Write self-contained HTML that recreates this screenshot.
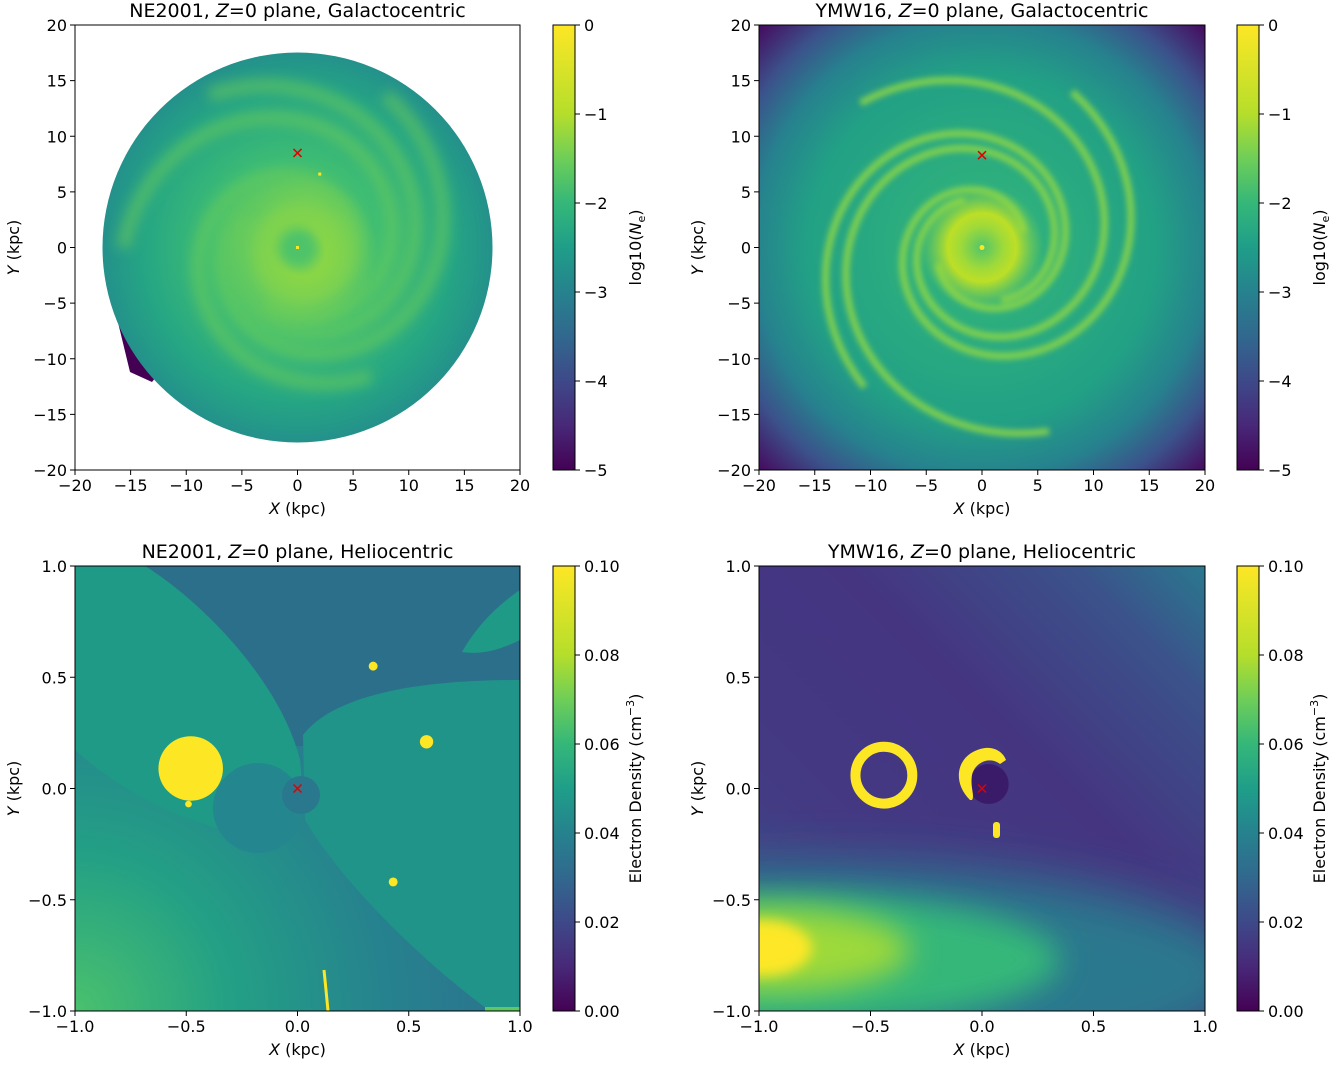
<!DOCTYPE html>
<html><head><meta charset="utf-8">
<style>
body{margin:0;background:#fff;}
svg{font-family:"DejaVu Sans","Liberation Sans",sans-serif;}
</style></head>
<body>
<svg id="fig" width="1333" height="1060" viewBox="0 0 1333 1060" xmlns="http://www.w3.org/2000/svg">
<defs>
<linearGradient id="viridis" x1="0" y1="1" x2="0" y2="0">
<stop offset="0" stop-color="#440154"/><stop offset="0.1" stop-color="#482878"/><stop offset="0.2" stop-color="#3e4989"/><stop offset="0.3" stop-color="#31688e"/><stop offset="0.4" stop-color="#26828e"/><stop offset="0.5" stop-color="#1f9e89"/><stop offset="0.6" stop-color="#35b779"/><stop offset="0.7" stop-color="#6ece58"/><stop offset="0.8" stop-color="#b5de2b"/><stop offset="1" stop-color="#fde725"/>
</linearGradient>
<radialGradient id="neDisc" cx="0.5" cy="0.5" r="0.5">
<stop offset="0" stop-color="#6ece58"/><stop offset="0.45" stop-color="#3dbc74"/><stop offset="0.8" stop-color="#25a584"/><stop offset="1" stop-color="#24918b"/>
</radialGradient>
<radialGradient id="ymwBg" cx="0.5" cy="0.5" r="0.71">
<stop offset="0" stop-color="#35b779"/><stop offset="0.55" stop-color="#22a185"/><stop offset="0.72" stop-color="#26828e"/><stop offset="0.85" stop-color="#3b528b"/><stop offset="1" stop-color="#46085c"/>
</radialGradient>
<radialGradient id="ymwCore" cx="0.5" cy="0.5" r="0.5">
<stop offset="0" stop-color="#52c569"/><stop offset="0.35" stop-color="#a0da39"/><stop offset="0.55" stop-color="#bddf26"/><stop offset="1" stop-color="#7fd34e" stop-opacity="0"/>
</radialGradient>
<radialGradient id="neCore" cx="0.5" cy="0.5" r="0.5">
<stop offset="0" stop-color="#6ece58"/><stop offset="0.3" stop-color="#8bd646"/><stop offset="0.6" stop-color="#7ad151"/><stop offset="1" stop-color="#6ece58" stop-opacity="0"/>
</radialGradient>
<linearGradient id="ymwBrBg" x1="0" y1="1" x2="1" y2="0">
<stop offset="0" stop-color="#3e4a89"/><stop offset="0.3" stop-color="#443983"/><stop offset="0.6" stop-color="#453581"/><stop offset="0.85" stop-color="#3b528b"/><stop offset="1" stop-color="#2a788e"/>
</linearGradient>
<radialGradient id="neBlGrad" cx="0" cy="1" r="1">
<stop offset="0" stop-color="#4ac16d"/><stop offset="0.35" stop-color="#23a085"/><stop offset="0.7" stop-color="#26828e"/><stop offset="1" stop-color="#2c728e"/>
</radialGradient>
<filter id="blur3"><feGaussianBlur stdDeviation="3"/></filter>
<filter id="blur6" x="-50%" y="-50%" width="200%" height="200%"><feGaussianBlur stdDeviation="6"/></filter>
<filter id="blur15" x="-50%" y="-50%" width="200%" height="200%"><feGaussianBlur stdDeviation="15"/></filter>
<filter id="blur25" x="-50%" y="-50%" width="200%" height="200%"><feGaussianBlur stdDeviation="25"/></filter>
<clipPath id="clipTL"><rect x="75" y="25" width="445" height="445"/></clipPath>
<clipPath id="clipTR"><rect x="759" y="25" width="446" height="445"/></clipPath>
<clipPath id="clipBL"><rect x="75" y="566" width="445" height="445"/></clipPath>
<clipPath id="clipBR"><rect x="759" y="566" width="446" height="445"/></clipPath>
<clipPath id="clipDisc"><circle cx="297.5" cy="247.5" r="195"/></clipPath>
</defs>
<g id="layer"></g>
</svg>
<script>
// ---- data ----
var galTicks = [-20,-15,-10,-5,0,5,10,15,20];
var helTicks = [-1.0,-0.5,0.0,0.5,1.0];
var logCbTicks = [0,-1,-2,-3,-4,-5];
var linCbTicks = [0.00,0.02,0.04,0.06,0.08,0.10];
// spiral arms (galactocentric): start radius kpc, start angle deg, winding deg
var neArmR0 = [4.5, 5.0, 5.5, 4.2];
var neArmA0 = [60, 150, 240, 330];
var neArmSpan = [360, 330, 300, 330];
var ymwArmR0 = [4.0, 4.5, 4.2, 5.0];
var ymwArmA0 = [20, 110, 200, 290];
var ymwArmSpan = [400, 380, 390, 360];
// heliocentric NE2001 clumps: x, y (kpc), radius (kpc)
var neClumpX = [-0.48, 0.34, 0.58, 0.43, -0.49];
var neClumpY = [0.09, 0.55, 0.21, -0.42, -0.07];
var neClumpR = [0.145, 0.02, 0.03, 0.02, 0.015];
// YMW16 heliocentric rings: x, y, outer r, inner r
var ymwRingX = [-0.44];
var ymwRingY = [0.06];
var ymwRingRo = [0.15];
var ymwRingRi = [0.105];

var NS="http://www.w3.org/2000/svg";
var L=document.getElementById('layer');
function mk(t,a,p){var e=document.createElementNS(NS,t);for(var k in a)e.setAttribute(k,a[k]);(p||L).appendChild(e);return e;}
function fmt(v,d){var s=Math.abs(v).toFixed(d);return (v<0?'\u2212':'')+s;}

function panel(ax,title,xmin,xmax,ticks,dec){
  var sx=function(v){return ax.x0+(v-xmin)/(xmax-xmin)*ax.w;};
  var sy=function(v){return ax.y0+ax.h-(v-xmin)/(xmax-xmin)*ax.h;};
  var g=mk('g',{});
  
  
  var fr=mk('rect',{x:ax.x0,y:ax.y0,width:ax.w,height:ax.h,fill:'none',stroke:'#000','stroke-width':1},g);
  
  
  ticks.forEach(function(t){
    var X=sx(t),Y=sy(t);
    mk('line',{x1:X,y1:ax.y0+ax.h,x2:X,y2:ax.y0+ax.h+5,stroke:'#000'},g);
    var tx=mk('text',{x:X,y:ax.y0+ax.h+21,'text-anchor':'middle','font-size':16},g);
    tx.textContent=fmt(t,dec);
    
    
    mk('line',{x1:ax.x0-5,y1:Y,x2:ax.x0,y2:Y,stroke:'#000'},g);
    var ty=mk('text',{x:ax.x0-8,y:Y+6,'text-anchor':'end','font-size':16},g);
    ty.textContent=fmt(t,dec);
    
    
  });
  var tt=mk('text',{x:ax.x0+ax.w/2,y:ax.y0-8,'text-anchor':'middle','font-size':19},g);
  tt.innerHTML=title;
  
  
  var xl=mk('text',{x:ax.x0+ax.w/2,y:ax.y0+ax.h+44,'text-anchor':'middle','font-size':16},g);
  xl.innerHTML='<tspan font-style="italic">X</tspan> (kpc)';
  
  
  var yl=mk('text',{x:0,y:0,'text-anchor':'middle','font-size':16,transform:'translate('+(ax.x0-56)+','+(ax.y0+ax.h/2)+') rotate(-90)'},g);
  yl.innerHTML='<tspan font-style="italic">Y</tspan> (kpc)';
  
  
  return {sx:sx,sy:sy};
}
function colorbar(x0,y0,h,ticks,vmin,vmax,dec,label){
  var g=mk('g',{});
  
  
  mk('rect',{x:x0,y:y0,width:22,height:h,fill:'url(#viridis)',stroke:'#000'},g);
  ticks.forEach(function(t){
    var Y=y0+h-(t-vmin)/(vmax-vmin)*h;
    mk('line',{x1:x0+22,y1:Y,x2:x0+27,y2:Y,stroke:'#000'},g);
    var tx=mk('text',{x:x0+31,y:Y+6,'font-size':16},g);
    tx.textContent=fmt(t,dec);
    
    
  });
  var lb=mk('text',{x:0,y:0,'text-anchor':'middle','font-size':16,transform:'translate('+(x0+88)+','+(y0+h/2)+') rotate(-90)'},g);
  lb.innerHTML=label;
  
  
}
function armPath(P,r0,a0,span){
  var k=0.2,d='';
  for(var i=0;i<=80;i++){
    var th=(a0+span*i/80)*Math.PI/180;
    var r=r0*Math.exp(k*span*i/80*Math.PI/180);
    var X=P.sx(r*Math.cos(th)),Y=P.sy(r*Math.sin(th));
    d+=(i?'L':'M')+X.toFixed(1)+','+Y.toFixed(1);
  }
  return d;
}
function cross(P,g){
  var X=P.sx(0),Y=P.sy(0.0);
  var c=mk('path',{d:'M'+(X-4)+','+(Y-4)+'L'+(X+4)+','+(Y+4)+'M'+(X+4)+','+(Y-4)+'L'+(X-4)+','+(Y+4),stroke:'#e00000','stroke-width':1.5},g);
  
  
}

// ===== Top-left NE2001 galactocentric =====
var TL={x0:75,y0:25,w:445,h:445,name:'ne2001-galactocentric'};
var gTL=mk('g',{'clip-path':'url(#clipTL)'});


var pTL={sx:function(v){return 75+(v+20)/40*445;},sy:function(v){return 25+(20-v)/40*445;}};
mk('path',{d:'M115,310 L130,372 L152,382 L160,372 L120,320 Z',fill:'#440154'},gTL);
mk('circle',{cx:pTL.sx(0),cy:pTL.sy(0),r:195,fill:'url(#neDisc)'},gTL);
var gArm=mk('g',{'clip-path':'url(#clipDisc)',filter:'url(#blur6)'},gTL);
neArmR0.forEach(function(r0,i){
  var a=mk('path',{d:armPath(pTL,r0,neArmA0[i],neArmSpan[i]),fill:'none',stroke:'#6ece58','stroke-width':14,'stroke-opacity':0.55},gArm);
  
  
});
mk('ellipse',{cx:pTL.sx(0.5),cy:pTL.sy(-0.5),rx:75,ry:78,fill:'url(#neCore)'},gTL);
mk('circle',{cx:pTL.sx(0),cy:pTL.sy(0),r:20,fill:'#4ec36b',filter:'url(#blur6)'},gTL);
mk('rect',{x:pTL.sx(0)-1.5,y:pTL.sy(0)-1.5,width:3,height:3,fill:'#fde725'},gTL);
mk('rect',{x:pTL.sx(2)-1.5,y:pTL.sy(6.6)-1.5,width:3,height:3,fill:'#fde725'},gTL);
panel(TL,'NE2001, <tspan font-style="italic">Z</tspan>=0 plane, Galactocentric',-20,20,galTicks,0);
var pTL2={sx:function(v){return pTL.sx(v);},sy:function(v){return pTL.sy(v+8.5);}};
cross(pTL2,L);
colorbar(553,25,445,logCbTicks,-5,0,0,'log10(<tspan font-style="italic">N</tspan><tspan font-size="11" dy="4">e</tspan><tspan dy="-4">)</tspan>');

// ===== Top-right YMW16 galactocentric =====
var TR={x0:759,y0:25,w:446,h:445,name:'ymw16-galactocentric'};
var pTR={sx:function(v){return 759+(v+20)/40*446;},sy:function(v){return 25+(20-v)/40*445;}};
var gTR=mk('g',{'clip-path':'url(#clipTR)'});


mk('rect',{x:759,y:25,width:446,height:445,fill:'url(#ymwBg)'},gTR);
var gArm2=mk('g',{filter:'url(#blur3)'},gTR);
ymwArmR0.forEach(function(r0,i){
  var a=mk('path',{d:armPath(pTR,r0,ymwArmA0[i],ymwArmSpan[i]),fill:'none',stroke:'#8fd744','stroke-width':7,'stroke-opacity':0.85},gArm2);
  
  
});
mk('circle',{cx:pTR.sx(0),cy:pTR.sy(0),r:62,fill:'url(#ymwCore)'},gTR);
mk('circle',{cx:pTR.sx(0),cy:pTR.sy(0),r:2.5,fill:'#fde725'},gTR);
panel(TR,'YMW16, <tspan font-style="italic">Z</tspan>=0 plane, Galactocentric',-20,20,galTicks,0);
var pTR2={sx:function(v){return pTR.sx(v);},sy:function(v){return pTR.sy(v+8.3);}};
cross(pTR2,L);
colorbar(1237,25,445,logCbTicks,-5,0,0,'log10(<tspan font-style="italic">N</tspan><tspan font-size="11" dy="4">e</tspan><tspan dy="-4">)</tspan>');

// ===== Bottom-left NE2001 heliocentric =====
var BL={x0:75,y0:566,w:445,h:445,name:'ne2001-heliocentric'};
var pBL={sx:function(v){return 75+(v+1)/2*445;},sy:function(v){return 566+(1-v)/2*445;}};
var gBL=mk('g',{'clip-path':'url(#clipBL)'});


mk('rect',{x:75,y:566,width:445,height:445,fill:'url(#neBlGrad)'},gBL);
mk('rect',{x:75,y:566,width:445,height:180,fill:'#2c6f8b'},gBL);
mk('path',{d:'M75,566 L145,566 C200,600 280,680 300,760 C305,810 300,840 280,842 C200,830 130,800 75,750 Z',fill:'#1f9a87'},gBL);
mk('path',{d:'M303,735 C330,700 400,680 520,680 L520,1011 L490,1011 C420,960 340,880 305,820 Z',fill:'#21948a'},gBL);
mk('path',{d:'M462,652 C480,620 505,600 520,590 L520,640 C500,650 480,655 462,652 Z',fill:'#1f9a87'},gBL);
mk('circle',{cx:258,cy:808,r:45,fill:'#24868e'},gBL);
mk('circle',{cx:301,cy:795,r:19,fill:'#2a788e'},gBL);
neClumpX.forEach(function(x,i){
  var c=mk('circle',{cx:pBL.sx(x),cy:pBL.sy(neClumpY[i]),r:neClumpR[i]/2*445,fill:'#fde725'},gBL);
  
  
});
mk('path',{d:'M324,970 L326,990 L328,1011',stroke:'#fde725','stroke-width':3,fill:'none'},gBL);
mk('rect',{x:485,y:1007,width:35,height:4,fill:'#5ec962'},gBL);
panel(BL,'NE2001, <tspan font-style="italic">Z</tspan>=0 plane, Heliocentric',-1,1,helTicks,1);
cross(pBL,L);
colorbar(553,566,445,linCbTicks,0,0.1,2,'Electron Density (cm<tspan font-size="11" dy="-7">\u22123</tspan><tspan dy="7">)</tspan>');

// ===== Bottom-right YMW16 heliocentric =====
var BR={x0:759,y0:566,w:446,h:445,name:'ymw16-heliocentric'};
var pBR={sx:function(v){return 759+(v+1)/2*446;},sy:function(v){return 566+(1-v)/2*445;}};
var gBR=mk('g',{'clip-path':'url(#clipBR)'});


mk('rect',{x:759,y:566,width:446,height:445,fill:'url(#ymwBrBg)'},gBR);
mk('ellipse',{cx:830,cy:975,rx:420,ry:110,fill:'#2a788e',filter:'url(#blur25)'},gBR);
mk('ellipse',{cx:790,cy:960,rx:270,ry:65,fill:'#35b779',filter:'url(#blur15)'},gBR);
mk('ellipse',{cx:770,cy:950,rx:140,ry:42,fill:'#9dd93b',filter:'url(#blur15)'},gBR);
mk('ellipse',{cx:762,cy:948,rx:50,ry:28,fill:'#fde725',filter:'url(#blur6)'},gBR);
ymwRingX.forEach(function(x,i){
  var cx=pBR.sx(x),cy=pBR.sy(ymwRingY[i]),ro=ymwRingRo[i]/2*446,ri=ymwRingRi[i]/2*446;
  var c=mk('circle',{cx:cx,cy:cy,r:(ro+ri)/2,fill:'none',stroke:'#fde725','stroke-width':ro-ri},gBR);
  
  
});
mk('circle',{cx:pBR.sx(0.03),cy:pBR.sy(0.02),r:20,fill:'#3a1b6a'},gBR);
mk('path',{d:'M970,800 C950,780 958,752 985,748 C995,747 1003,752 1006,760 L1000,764 C990,756 975,762 972,775 C970,788 975,795 972,800 Z',fill:'#fde725'},gBR);
mk('rect',{x:993,y:822,width:7,height:16,rx:3,fill:'#fde725'},gBR);
panel(BR,'YMW16, <tspan font-style="italic">Z</tspan>=0 plane, Heliocentric',-1,1,helTicks,1);
cross(pBR,L);
colorbar(1237,566,445,linCbTicks,0,0.1,2,'Electron Density (cm<tspan font-size="11" dy="-7">\u22123</tspan><tspan dy="7">)</tspan>');
</script>
</body></html>
